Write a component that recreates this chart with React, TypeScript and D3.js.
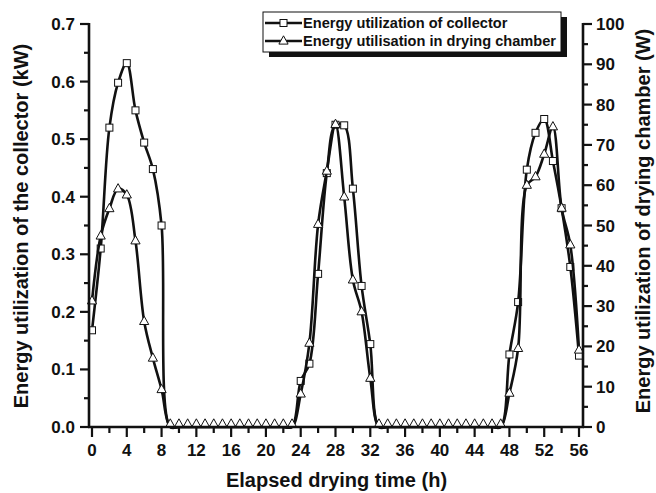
import React from "react";
import * as d3 from "d3";

const hours = [0,1,2,3,4,5,6,7,8,9,10,11,12,13,14,15,16,17,18,19,20,21,22,23,24,25,26,27,28,29,30,31,32,33,34,35,36,37,38,39,40,41,42,43,44,45,46,47,48,49,50,51,52,53,54,55,56];

// Energy utilization of collector (kW)
const collector = [
  0.168, 0.31, 0.52, 0.598, 0.632, 0.55, 0.494, 0.448, 0.35,
  0, 0, 0, 0, 0, 0, 0, 0, 0, 0, 0, 0, 0, 0, 0,
  0.08, 0.11, 0.266, 0.441, 0.525, 0.524, 0.414, 0.245, 0.144,
  0, 0, 0, 0, 0, 0, 0, 0, 0, 0, 0, 0, 0, 0, 0,
  0.126, 0.217, 0.447, 0.511, 0.535, 0.462, 0.38, 0.278, 0.124,
];

// Energy utilisation in drying chamber (W)
const chamber = [
  31.3, 47.4, 54.2, 59.1, 57.6, 46.2, 26.2, 17.1, 9.3,
  0, 0, 0, 0, 0, 0, 0, 0, 0, 0, 0, 0, 0, 0, 0,
  8.2, 20.8, 50.3, 63.5, 75.1, 57.1, 36.5, 28.6, 12.1,
  0, 0, 0, 0, 0, 0, 0, 0, 0, 0, 0, 0, 0, 0, 0,
  8.4, 19.5, 60, 62.1, 67.7, 74.5, 54.3, 45.2, 19.1,
];

const xMajorTicks = [0,4,8,12,16,20,24,28,32,36,40,44,48,52,56];
const xMinorTicks = [2,6,10,14,18,22,26,30,34,38,42,46,50,54];
const yLeftTicks = [0,0.1,0.2,0.3,0.4,0.5,0.6,0.7];
const yLeftMinor = [0.05,0.15,0.25,0.35,0.45,0.55,0.65];
const yRightTicks = [0,10,20,30,40,50,60,70,80,90,100];
const yRightMinor = [5,15,25,35,45,55,65,75,85,95];

const legendLabels = ["Energy utilization of collector", "Energy utilisation in drying chamber"];
const xTitle = "Elapsed drying time (h)";
const yLeftTitle = "Energy utilization of the collector (kW)";
const yRightTitle = "Energy utilization of drying chamber (W)";

const FONT = "'Liberation Sans', Arial, sans-serif";

const W = 656, H = 493;
const x = d3.scaleLinear().domain([-0.345, 56.46]).range([89, 583]);
const yL = d3.scaleLinear().domain([0, 0.7]).range([427, 24]);
const yR = d3.scaleLinear().domain([0, 100]).range([427, 24]);

const triPath = "M0,-5.2L4.6,3.1L-4.6,3.1Z";

export default function App() {
  const line = d3.line<number>().curve(d3.curveCatmullRom.alpha(0.5));
  const colPts = hours.map((h, i) => [x(h), yL(collector[i])] as [number, number]);
  const chPts = hours.map((h, i) => [x(h), yR(chamber[i])] as [number, number]);

  return (
    <svg width={W} height={H} style={{ position: "absolute", left: 0, top: 0, background: "#fff" }} fontFamily={FONT}>
      <rect x={0} y={0} width={W} height={H} fill="#fff" />
      {/* data */}
      <path d={line(colPts as any) || ""} fill="none" stroke="#111" strokeWidth={2.6} />
      {colPts.map((p, i) => collector[i] > 0 ? (
        <rect key={"s" + i} x={p[0] - 3.5} y={p[1] - 3.5} width={7} height={7} fill="#fff" stroke="#111" strokeWidth={1} />
      ) : null)}
      <path d={line(chPts as any) || ""} fill="none" stroke="#111" strokeWidth={2.6} />
      {chPts.map((p, i) => (
        <path key={"t" + i} d={triPath} transform={`translate(${p[0]},${p[1] - (chamber[i] === 0 ? 3 : 0)})`} fill="#fff" stroke="#111" strokeWidth={1} />
      ))}

      {/* axes */}
      <g stroke="#111" strokeWidth={2.6}>
        <line x1={89} x2={89} y1={yL(0.7) - 1} y2={428} />
        <line x1={583} x2={583} y1={yR(100) - 1} y2={428} />
        <line x1={88} x2={584} y1={427} y2={427} />
      </g>
      <g stroke="#111" strokeWidth={2.2}>
        {xMajorTicks.map(t => <line key={"xm" + t} x1={x(t)} x2={x(t)} y1={427} y2={437} />)}
        {xMinorTicks.map(t => <line key={"xn" + t} x1={x(t)} x2={x(t)} y1={427} y2={433} />)}
        {yLeftTicks.map(t => <line key={"ylm" + t} x1={80} x2={89} y1={yL(t)} y2={yL(t)} />)}
        {yLeftMinor.map(t => <line key={"yln" + t} x1={84} x2={89} y1={yL(t)} y2={yL(t)} />)}
        {yRightTicks.map(t => <line key={"yrm" + t} x1={583} x2={592} y1={yR(t)} y2={yR(t)} />)}
        {yRightMinor.map(t => <line key={"yrn" + t} x1={583} x2={588} y1={yR(t)} y2={yR(t)} />)}
      </g>
      <g fontSize={17} fontWeight="bold" fill="#111">
        {xMajorTicks.map(t => <text key={"xl" + t} x={x(t)} y={456} textAnchor="middle">{t}</text>)}
        {yLeftTicks.map(t => <text key={"yll" + t} x={75} y={yL(t) + 6} textAnchor="end">{t.toFixed(1)}</text>)}
        {yRightTicks.map(t => <text key={"yrl" + t} x={596} y={yR(t) + 6} textAnchor="start">{t}</text>)}
      </g>
      <g fontSize={20} fontWeight="bold" fill="#111">
        <text x={336.5} y={487} textAnchor="middle">{xTitle}</text>
        <text transform={`translate(28,226) rotate(-90)`} textAnchor="middle">{yLeftTitle}</text>
        <text transform={`translate(650,221) rotate(-90)`} textAnchor="middle">{yRightTitle}</text>
      </g>

      {/* legend */}
      <rect x={269} y={17} width={298} height={40} fill="#111" />
      <rect x={263} y={12} width={298} height={40} fill="#fff" stroke="#111" strokeWidth={1} />
      <line x1={265} x2={302} y1={23} y2={23} stroke="#111" strokeWidth={2.6} />
      <rect x={283.5 - 3.5} y={23 - 3.5} width={7} height={7} fill="#fff" stroke="#111" strokeWidth={1} />
      <line x1={265} x2={302} y1={41} y2={41} stroke="#111" strokeWidth={2.6} />
      <path d={triPath} transform="translate(283.5,41)" fill="#fff" stroke="#111" strokeWidth={1} />
      <g fontSize={14.6} fontWeight="bold" fill="#111">
        <text x={303} y={28}>{legendLabels[0]}</text>
        <text x={303} y={46}>{legendLabels[1]}</text>
      </g>
    </svg>
  );
}
